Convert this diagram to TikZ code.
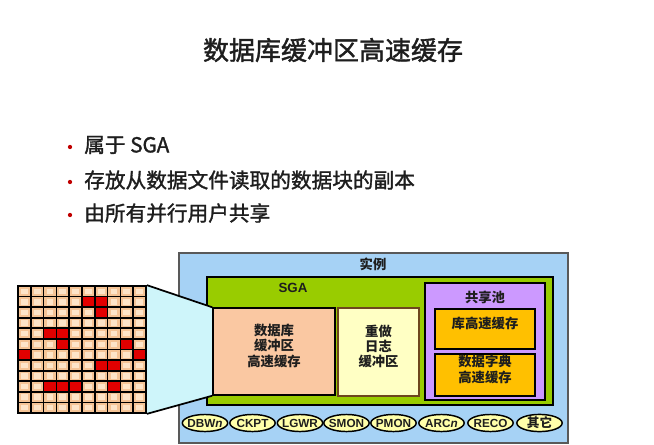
\documentclass[tikz,border=0pt]{standalone}
\usepackage{fontspec}
\setmainfont{Liberation Sans}
\newfontfamily\cjk{Noto Sans CJK SC}
\newfontfamily\cjkm{Noto Sans CJK SC}[FakeBold=1.5]
\usetikzlibrary{shapes.geometric,fit}
\definecolor{txt}{RGB}{30,30,30}
\definecolor{instblue}{RGB}{166,210,245}
\definecolor{sgagreen}{RGB}{153,204,0}
\definecolor{bufpeach}{RGB}{250,200,162}
\definecolor{redoyel}{RGB}{255,255,196}
\definecolor{redoedge}{RGB}{110,70,30}
\definecolor{poolpurple}{RGB}{204,153,255}
\definecolor{cacheorange}{RGB}{255,192,0}
\definecolor{ellfill}{RGB}{255,255,170}
\definecolor{funnel}{RGB}{206,245,250}
\definecolor{cellpeach}{RGB}{245,196,150}
\definecolor{cellin}{RGB}{253,228,200}
\definecolor{cellred}{RGB}{225,0,0}
\definecolor{bulletred}{RGB}{192,0,0}
\pgfdeclarelayer{back}
\pgfdeclarelayer{mid}
\pgfsetlayers{back,mid,main}
\newcommand{\proclbl}[1]{\makebox[0pt]{#1}}
\tikzset{
  area/.style={inner sep=0pt, line width=0.9pt},
  boxtext/.style={font=\cjk\bfseries\fontsize{10}{11.5}\selectfont, align=center, text=txt},
  proc/.style={ellipse, draw=black, line width=1.1pt, fill=ellfill, minimum width=34pt, minimum height=12.8pt, inner sep=0pt, font=\bfseries\fontsize{8.8}{9}\selectfont, text=txt},
  bullettext/.style={anchor=west, font=\cjkm\fontsize{15.5}{18}\selectfont, text=txt, inner sep=0pt},
  bulletdot/.style={circle, fill=bulletred, inner sep=0pt, minimum size=3.2pt}
}
\begin{document}
\begin{tikzpicture}[x=0.75pt,y=-0.75pt]
\useasboundingbox (0,0) rectangle (654,444);

% title and bullets
\node[font=\cjkm\fontsize{19.5}{22}\selectfont, text=txt] (title) at (333,50) {数据库缓冲区高速缓存};
\node[bulletdot] (d1) at (70,147) {};
\node[bullettext] (b1) at (84,145) {属于 SGA};
\node[bulletdot] (d2) at (70,182) {};
\node[bullettext] (b2) at (84,180) {存放从数据文件读取的数据块的副本};
\node[bulletdot] (d3) at (70,215) {};
\node[bullettext] (b3) at (84,213) {由所有并行用户共享};

% containers
\begin{pgfonlayer}{back}
\fill[white] (0,0) rectangle (654,444);
\node[area, fit={(179,253)(568,443)}, fill=instblue, draw=black!65] (inst) {};
\node[area, fit={(207,277)(553,405)}, fill=sgagreen, draw=black] (sga) {};
\end{pgfonlayer}
\node[boxtext] (instlbl) at (373,264) {实例};
\node[font=\bfseries\fontsize{10}{12}\selectfont, text=txt] (sgalbl) at (293,288) {SGA};

\node[area, fit={(213,308)(335,395)}, fill=bufpeach, draw=black, line width=1.1pt, boxtext] (buf) {数据库\\缓冲区\\高速缓存};
\node[area, fit={(338,308)(419,396)}, fill=redoyel, draw=redoedge, line width=1.1pt, boxtext] (redo) {重做\\日志\\缓冲区};
\node[area, fit={(425,283)(545,400)}, fill=poolpurple, draw=black, line width=1pt] (pool) {};
\node[boxtext] (poollbl) at (485,297) {共享池};
\node[area, fit={(435,309)(535,349)}, fill=cacheorange, draw=black, line width=1.3pt, boxtext] (lib) {库高速缓存};
\node[area, fit={(435,354)(535,396)}, fill=cacheorange, draw=black, line width=1.3pt, boxtext] (dict) {数据字典\\高速缓存};

% block grid
\fill[cellpeach] (18,286) rectangle (146,413);
\foreach \c in {0,...,9}{
  \foreach \r in {0,...,11}{
    \fill[cellin] ({18+12.8*\c+3},{286+10.5833*\r+2.6}) rectangle ++(6.8,5.4);
  }
}
\foreach \c/\r in {5/1,6/1,6/2,2/4,3/4,3/5,8/5,0/6,9/6,6/7,7/7,2/9,3/9,4/9,7/9}{
  \fill[cellred] ({18+12.8*\c},{286+10.5833*\r}) rectangle ++(12.8,10.5833);
}
\foreach \i in {1,...,9}{
  \draw[line width=1.3pt, black] ({18+12.8*\i},286) -- ({18+12.8*\i},413);
}
\foreach \j in {1,...,11}{
  \draw[line width=1.3pt, black] (18,{286+10.5833*\j}) -- (146,{286+10.5833*\j});
}
\node[area, fit={(18,286)(146,413)}, draw=black, line width=1.3pt] (grid) {};

% funnel
\begin{pgfonlayer}{mid}
\fill[funnel] (grid.north east) -- (buf.north west) -- (buf.south west) -- (grid.south east) -- cycle;
\end{pgfonlayer}
\draw[line width=1.3pt, black] (grid.north east) -- (buf.north west);
\draw[line width=1.3pt, black] (grid.south east) -- (buf.south west);

% background processes
\node[proc] (p1) at (205,423) {\proclbl{DBW\textit{n}}};
\node[proc] (p2) at (252.5,423) {\proclbl{CKPT}};
\node[proc] (p3) at (300,423) {\proclbl{LGWR}};
\node[proc] (p4) at (346.5,423) {\proclbl{SMON}};
\node[proc] (p5) at (393.5,423) {\proclbl{PMON}};
\node[proc] (p6) at (441.5,423) {\proclbl{ARC\textit{n}}};
\node[proc] (p7) at (490.5,423) {\proclbl{RECO}};
\node[proc, font=\cjk\bfseries\fontsize{9.5}{10}\selectfont] (p8) at (539.5,423) {\proclbl{其它}};
\end{tikzpicture}
\end{document}
